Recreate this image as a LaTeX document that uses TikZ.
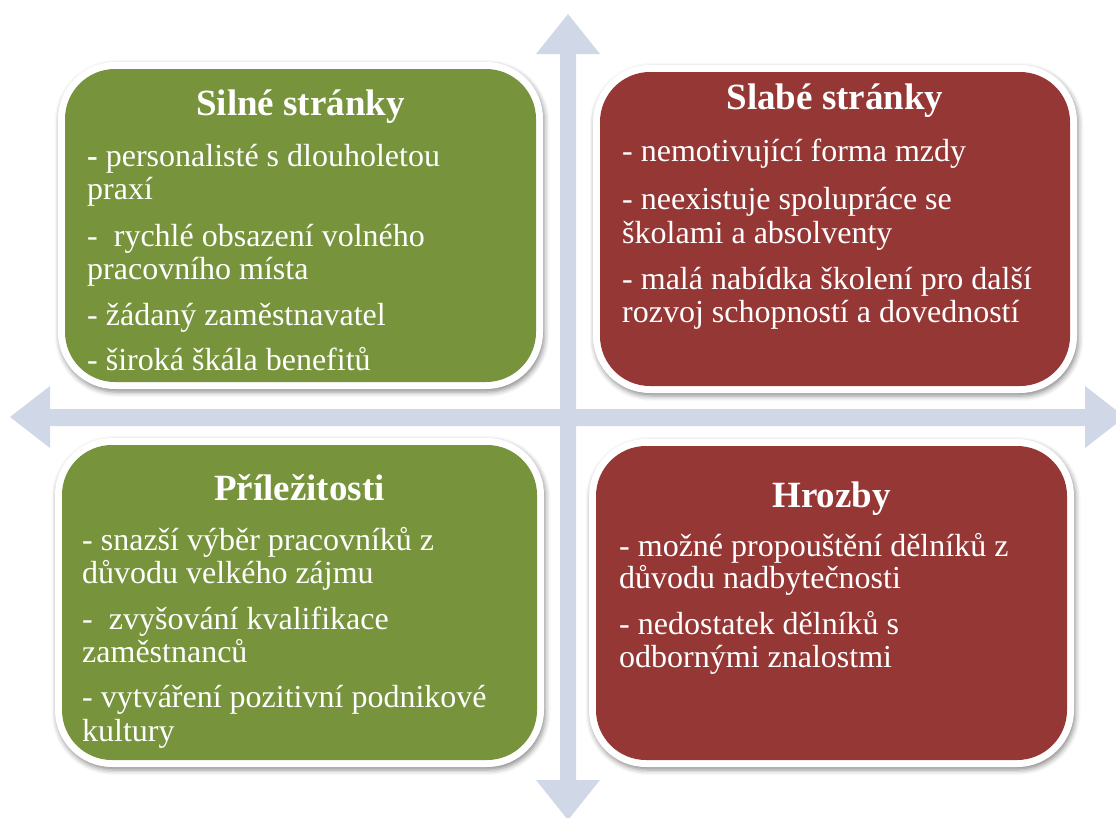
\documentclass[tikz,border=0pt]{standalone}
\usepackage{fontspec}
\setmainfont{Liberation Serif}
\usetikzlibrary{shadows.blur}
\definecolor{sgreen}{RGB}{119,147,60}
\definecolor{sred}{RGB}{149,55,53}
\definecolor{arrowc}{RGB}{208,216,232}
\begin{document}
\begin{tikzpicture}[x=1pt,y=-1pt,
  outerbox/.style={rectangle, fill=white, rounded corners=57pt, inner sep=0pt, outer sep=0pt,
    blur shadow={shadow xshift=1.5pt, shadow yshift=-3pt, shadow blur radius=5pt, shadow opacity=45}},
  innerbox/.style={rectangle, rounded corners=50pt, inner sep=0pt, outer sep=0pt},
  boxtitle/.style={anchor=base, text=white, font=\fontsize{37}{40}\selectfont\bfseries, inner sep=0pt},
  bodyline/.style={anchor=base west, text=white, font=\fontsize{32}{33}\selectfont, inner sep=0pt},
  arrowshape/.style={fill=arrowc}]
\useasboundingbox (0,0) rectangle (1116,817);
% arrows
\fill[arrowshape] (568,14) -- (600,54) -- (576,54) -- (576,780) -- (600,780) -- (568,820)
  -- (536,780) -- (560,780) -- (560,54) -- (536,54) -- cycle;
\fill[arrowshape] (10,417) -- (50,386) -- (50,409) -- (1085,409) -- (1085,386) -- (1125,417)
  -- (1085,448) -- (1085,426) -- (50,426) -- (50,448) -- cycle;
% boxes
\node[outerbox, minimum width=485pt, minimum height=327pt] (tlw) at (300.5,225.5) {};
\node[innerbox, fill=sgreen, minimum width=471pt, minimum height=313pt] (tl) at (tlw.center) {};
\node[outerbox, minimum width=484pt, minimum height=328pt] (trw) at (835,229) {};
\node[innerbox, fill=sred, minimum width=470pt, minimum height=314pt] (tr) at (trw.center) {};
\node[outerbox, minimum width=489pt, minimum height=329pt] (blw) at (299.5,602.5) {};
\node[innerbox, fill=sgreen, minimum width=475pt, minimum height=315pt] (bl) at (blw.center) {};
\node[outerbox, minimum width=485pt, minimum height=328pt] (brw) at (831.5,603) {};
\node[innerbox, fill=sred, minimum width=471pt, minimum height=314pt] (br) at (brw.center) {};
% titles
\node[boxtitle] (tlt) at (300.5,115) {Silné stránky};
\node[boxtitle] (trt) at (835,109) {Slabé stránky};
\node[boxtitle] (blt) at (299.5,500) {Příležitosti};
\node[boxtitle] (brt) at (831.5,507) {Hrozby};
% top-left text
\node[bodyline] (tl1) at (87,166) {\textbf{-} personalisté s dlouholetou};
\node[bodyline] (tl2) at (87,199) {praxí};
\node[bodyline] (tl3) at (87,246) {-~ rychlé obsazení volného};
\node[bodyline] (tl4) at (87,279) {pracovního místa};
\node[bodyline] (tl5) at (87,325) {- žádaný zaměstnavatel};
\node[bodyline] (tl6) at (87,370) {- široká škála benefitů};
% top-right text
\node[bodyline] (tr1) at (622,161) {- nemotivující forma mzdy};
\node[bodyline] (tr2) at (622,209) {- neexistuje spolupráce se};
\node[bodyline] (tr3) at (622,243) {školami a absolventy};
\node[bodyline] (tr4) at (622,289) {- malá nabídka školení pro další};
\node[bodyline] (tr5) at (622,322) {rozvoj schopností a dovedností};
% bottom-left text
\node[bodyline] (bl1) at (82,550) {- snazší výběr pracovníků z};
\node[bodyline] (bl2) at (82,583) {důvodu velkého zájmu};
\node[bodyline] (bl3) at (82,629) {-~ zvyšování kvalifikace};
\node[bodyline] (bl4) at (82,662) {zaměstnanců};
\node[bodyline] (bl5) at (82,707) {- vytváření pozitivní podnikové};
\node[bodyline] (bl6) at (82,741) {kultury};
% bottom-right text
\node[bodyline] (br1) at (619,556) {- možné propouštění dělníků z};
\node[bodyline] (br2) at (619,588) {důvodu nadbytečnosti};
\node[bodyline] (br3) at (619,634) {- nedostatek dělníků s};
\node[bodyline] (br4) at (619,667) {odbornými znalostmi};
\end{tikzpicture}
\end{document}
